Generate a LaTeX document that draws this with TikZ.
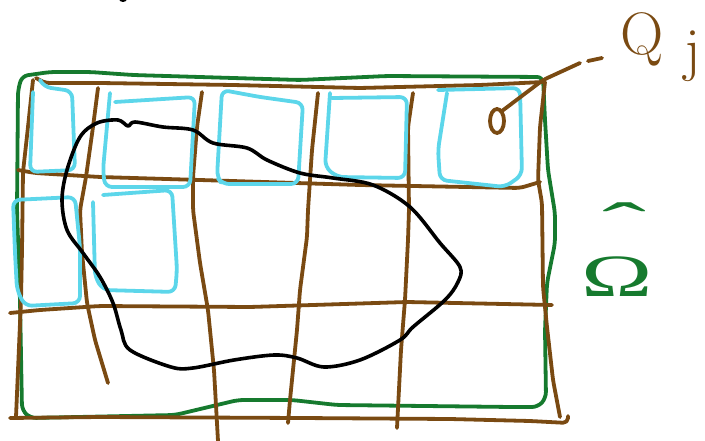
\documentclass[tikz,border=0pt]{standalone}
\usepackage{fontspec}
\usepackage{graphicx}
\newfontfamily\omegafont{Liberation Serif}
\definecolor{sbrown}{RGB}{122,74,18}
\definecolor{sgreen}{RGB}{22,122,46}
\definecolor{scyan}{RGB}{92,214,234}
\begin{document}
\begin{tikzpicture}[x=1pt,y=-1pt,line cap=round,line join=round,
  brownline/.style={draw=sbrown,line width=3.8pt,rounded corners=5pt},
  greenline/.style={draw=sgreen,line width=3.8pt,rounded corners=6pt},
  cyanline/.style={draw=scyan,line width=3.8pt,rounded corners=7pt},
  blackline/.style={draw=black,line width=3.6pt},
  qtext/.style={text=sbrown,inner sep=0pt,font=\fontsize{60}{60}\selectfont},
  otext/.style={text=sgreen,inner sep=0pt,align=center,font=\omegafont\fontsize{60}{60}\selectfont}]
\useasboundingbox (0,0) rectangle (705,441);
\clip (0,0) rectangle (705,441);
% stray mark at the top
\fill (123,-1) ellipse (4 and 3);
% outer green boundary
\draw[greenline] (22,76) -- (50,72) -- (90,72) -- (133,75) -- (233,78) -- (300,80) -- (387,76) -- (543,77)
  -- (545,120) -- (548,170) -- (555,213) -- (555,243) -- (547,283) -- (545,330) -- (546,398) -- (538,407)
  -- (512,407) -- (337,405) -- (292,400) -- (238,400) -- (175,415) -- (30,418) -- (22,410)
  -- (20,300) -- (17,210) -- (18,90) -- cycle;
% brown grid: horizontals
\draw[brownline] (36,78) -- (45,83) -- (100,83) -- (233,85) -- (360,88) -- (480,85) -- (543,82);
\draw[brownline] (18,170) -- (35,173) -- (100,177) -- (200,180) -- (360,185) -- (520,188) -- (540,182);
\draw[brownline] (10,313) -- (40,310) -- (100,306) -- (250,307) -- (407,302) -- (552,305);
\draw[brownline] (10,418) -- (100,417) -- (300,418) -- (450,419) -- (530,421) -- (568,423) -- (568,416);
% brown grid: verticals
\draw[brownline] (33,80) -- (28,127) -- (23,172) -- (22,250) -- (21,300) -- (16,417);
\draw[brownline] (98,88) -- (93,127) -- (86,177) -- (80,210) -- (82,253) -- (87,303) -- (95,340) -- (108,383);
\draw[brownline] (202,92) -- (197,127) -- (193,177) -- (193,210) -- (200,263) -- (208,310) -- (214,370) -- (218,441);
\draw[brownline] (318,93) -- (312,150) -- (308,210) -- (307,237) -- (300,290) -- (297,330) -- (290,400) -- (288,423);
\draw[brownline] (413,93) -- (408,127) -- (409,210) -- (408,240) -- (405,300) -- (401,350) -- (397,428);
\draw[brownline] (545,82) -- (540,127) -- (538,180) -- (542,203) -- (543,287) -- (547,327) -- (553,380) -- (560,417);
% cyan cubes, top row
\draw[cyanline] (40,80) -- (44,87) -- (72,91) -- (75,170) -- (30,172) -- (33,92);
\draw[cyanline] (110,93) -- (103,170) -- (105,187) -- (190,187) -- (195,97) -- (115,102);
\draw[cyanline] (222,90) -- (217,177) -- (222,184) -- (298,184) -- (303,103) -- (260,97) -- cycle;
\draw[cyanline] (330,93) -- (325,167) -- (337,177) -- (405,178) -- (407,97) -- (332,98);
\draw[cyanline] (447,93) -- (438,150) -- (440,180) -- (505,187) -- (522,175) -- (520,88) -- (438,90);
% cyan cubes, second row
\draw[cyanline] (13,200) -- (75,197) -- (80,247) -- (80,303) -- (25,306) -- (17,290) -- (15,253) -- cycle;
\draw[cyanline] (93,202) -- (95,277) -- (103,290) -- (175,292) -- (177,270) -- (172,190) -- (103,195);
% black domain
\draw[blackline] plot[smooth cycle,tension=0.55] coordinates {
 (62,200) (67,170) (80,137) (97,123) (118,120) (128,126) (135,122) (163,127) (193,130)
 (213,143) (247,148) (267,160) (300,173) (333,178) (373,185) (410,207) (440,243)
 (460,267) (458,282) (445,300) (413,327) (400,340) (360,360) (324,367) (297,358)
 (274,355) (234,360) (193,368) (171,367) (130,350) (121,330) (113,303) (100,277)
 (83,253) (67,230)};
% label Q_j with its leader
\node[qtext,anchor=base west] (qlabel) at (620,55) {Q\hspace{21pt}\raisebox{-15pt}{j}};
\draw[brownline,rounded corners=0pt] (497,121) ellipse (7 and 12);
\coordinate (loop) at (502,111);
\coordinate (corner) at (543,80);
\coordinate (lead) at (580,63);
\draw[brownline] (loop) -- (corner) -- (lead);
\draw[brownline] (588,61) -- (602,58);
% label Omega hat
\node[otext,anchor=base] (omega) at (617,297) {\hspace{14pt}\scalebox{2.2}[1]{ˆ}\\[-8pt]\scalebox{1.6}[1]{Ω}};
\end{tikzpicture}
\end{document}
